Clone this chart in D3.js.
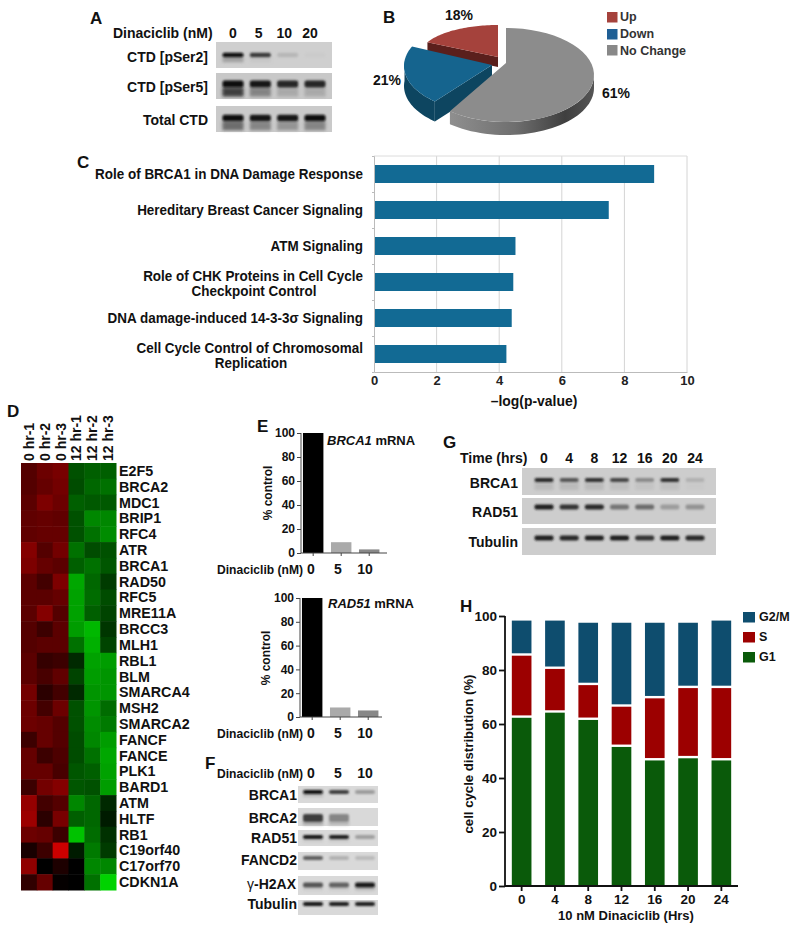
<!DOCTYPE html>
<html><head><meta charset="utf-8">
<script src="https://cdn.jsdelivr.net/npm/d3@7"></script>
<style>
html,body{margin:0;padding:0;background:#fff}
svg{display:block}
text{font-family:"Liberation Sans",Arial,sans-serif;font-weight:bold;fill:#111}
</style></head><body>
<svg id="fig" width="800" height="931"></svg>
<script>
// ---- Panel B
const pieLabels=["No Change","Down","Up"];
const pieValues=[61,21,18];
// ---- Panel C
const pathways=["Role of BRCA1 in DNA Damage Response","Hereditary Breast Cancer Signaling","ATM Signaling","Role of CHK Proteins in Cell Cycle|Checkpoint Control","DNA damage-induced 14-3-3σ Signaling","Cell Cycle Control of Chromosomal|Replication"];
const pathwayValues=[8.95,7.5,4.52,4.45,4.4,4.23];
// ---- Panel D
const heatGenes=["E2F5","BRCA2","MDC1","BRIP1","RFC4","ATR","BRCA1","RAD50","RFC5","MRE11A","BRCC3","MLH1","RBL1","BLM","SMARCA4","MSH2","SMARCA2","FANCF","FANCE","PLK1","BARD1","ATM","HLTF","RB1","C19orf40","C17orf70","CDKN1A"];
const heatSamples=["0 hr-1","0 hr-2","0 hr-3","12 hr-1","12 hr-2","12 hr-3"];
const heatValues=[
[.35,.45,.5,-.3,-.35,-.35],[.35,.42,.48,-.28,-.38,-.42],[.38,.52,.45,-.35,-.33,-.33],[.4,.42,.4,-.3,-.5,-.5],
[.4,.42,.42,-.3,-.42,-.52],[.55,.35,.48,-.42,-.28,-.3],[.52,.42,.38,-.35,-.42,-.32],[.38,.28,.52,-.62,-.38,-.22],
[.38,.38,.42,-.6,-.4,-.28],[.38,.55,.35,-.6,-.35,-.25],[.35,.25,.38,-.58,-.68,-.2],[.35,.38,.38,-.42,-.65,-.25],
[.38,.22,.25,-.15,-.6,-.58],[.38,.3,.4,-.25,-.58,-.55],[.48,.18,.28,-.15,-.55,-.55],[.45,.28,.45,-.3,-.55,-.4],
[.45,.42,.35,-.3,-.52,-.45],[.25,.42,.35,-.28,-.5,-.58],[.42,.25,.32,-.28,-.42,-.62],[.42,.42,.3,-.32,-.35,-.6],
[.25,.48,.55,-.32,-.3,-.58],[.62,.28,.35,-.5,-.38,-.15],[.65,.18,.5,-.35,-.38,-.1],[.45,.42,.25,-.72,-.4,-.18],
[.1,.25,.85,-.1,-.45,-.22],[.6,0,.12,0,-.5,-.5],[.2,.42,.02,0,-.42,-.78]];
// ---- Panel E
const doseE=["0","5","10"];
const brca1mRNA=[100,9,3];
const rad51mRNA=[100,8,5.5];
const doseBarColors=["#000","#aaa","#888"];
// ---- Panel H
const hrs=["0","4","8","12","16","20","24"];
const g1=[62.3,64.2,61.5,51.5,46.5,47.3,46.5];
const sPhase=[23,16.2,12.9,14.9,23,26,26.8];
const g2m=[13,17.9,23.1,31.1,28,24.2,25];
// ---- Western blots: band darkness per lane
const doseA=["0","5","10","20"];
const blotA=[
 {name:"CTD [pSer2]",bands:[1,.75,.12,.02],smear:[.3,.05,0,0]},
 {name:"CTD [pSer5]",bands:[1,.95,.85,.85],smear:[.9,.45,.2,.2]},
 {name:"Total CTD",bands:[1,.95,.95,1],smear:[.6,.45,.35,.45]}];
const blotF=[
 {name:"BRCA1",bands:[1,.75,.3],smear:[.2,0,0]},
 {name:"BRCA2",bands:[.75,.4,0],smear:[.35,.25,0]},
 {name:"RAD51",bands:[.95,.9,.28],smear:[.1,.1,0]},
 {name:"FANCD2",bands:[.6,.2,.15],smear:[0,0,0]},
 {name:"γ-H2AX",bands:[.65,.58,.95],smear:[.1,.1,.2]},
 {name:"Tubulin",bands:[.95,.9,.9],smear:[0,0,0]}];
const timeG=["0","4","8","12","16","20","24"];
const blotG=[
 {name:"BRCA1",bands:[.85,.62,.8,.7,.35,.8,.15],smear:[.12,.12,.12,.08,.06,.08,.02]},
 {name:"RAD51",bands:[.9,.8,.85,.45,.5,.25,.3],smear:[0,0,0,0,0,0,0]},
 {name:"Tubulin",bands:[.9,.85,.9,.9,.8,.9,.85],smear:[0,0,0,0,0,0,0]}];

const svg=d3.select("#fig");
const defs=svg.append("defs");
defs.append("filter").attr("id","blur").attr("x","-20%").attr("y","-100%").attr("width","140%").attr("height","300%")
  .append("feGaussianBlur").attr("stdDeviation","1.2 0.9");
defs.append("filter").attr("id","soft").attr("x","-20%").attr("y","-100%").attr("width","140%").attr("height","300%")
  .append("feGaussianBlur").attr("stdDeviation","1.5 1.6");

function txt(x,y,s,size,anchor,extra){
  const t=svg.append("text").attr("x",x).attr("y",y).attr("font-size",size).attr("text-anchor",anchor||"start").text(s);
  if(extra)extra(t);
  return t;
}
function letter(s,x,y){txt(x,y,s,17)}

// Blot drawing: a grey membrane with blurred bands
function blot(row,o){
  const g=svg.append("g");
  g.append("rect").attr("x",o.x).attr("y",o.y).attr("width",o.w).attr("height",o.h).attr("fill",o.bg||"#d6d6d6");
  const ink=d3.scaleLinear().domain([0,1]).range([o.bg||"#d6d6d6","#0a0a0a"]);
  const lane=d3.scalePoint().domain(d3.range(row.bands.length)).range(o.lanes);
  const bh=o.bh||5;
  row.smear.forEach((v,i)=>{ if(v<=0)return;
    g.append("rect").attr("x",lane(i)-o.bw/2).attr("y",o.by+bh/2).attr("width",o.bw).attr("height",o.sh||8)
     .attr("fill",ink(v)).attr("opacity",.8).attr("filter","url(#soft)");});
  row.bands.forEach((v,i)=>{ if(v<=0)return;
    g.append("rect").attr("x",lane(i)-o.bw/2).attr("y",o.by-bh/2).attr("width",o.bw).attr("height",bh).attr("rx",2)
     .attr("fill",ink(v)).attr("filter","url(#blur)");});
}

// ------- A
letter("A",90,24);
txt(113,38,"Dinaciclib (nM)",14);
const aLab=d3.scalePoint().domain(doseA).range([233,310]);
doseA.forEach(d=>txt(aLab(d),38,d,14,"middle"));
const aRows=[[42,26,55,62,"#cfcfcf"],[73,26,84,92,"#c8c8c8"],[106,26,118,125,"#cacaca"]];
blotA.forEach((r,i)=>{
  blot(r,{x:216,y:aRows[i][0],w:116,h:aRows[i][1],by:aRows[i][2],lanes:[233,315],bw:21,bh:i==0?4.5:i==1?7:6.5,sh:i==0?5:9,bg:aRows[i][4]});
  txt(208,aRows[i][3],r.name,14,"end");
});

// ------- B
letter("B",383,23);
const pie=d3.pie().value(d=>d).sort(null)(pieValues);
const sliceGeo=[
 {cx:506,cy:75,apx:506,apy:63,rx:88,ry:47,top:"#8c8c8c",depth:13},
 {cx:489,cy:66,apx:492,apy:65,rx:85,ry:46,top:"#15648e",side:"#0d4560",depth:20},
 {cx:498,cy:55,apx:498,apy:57,rx:78,ry:30,top:"#a5423c",side:"#5a1f1c",depth:10}];
function rimPt(a,g){return [g.cx+g.rx*Math.sin(a),g.cy-g.ry*Math.cos(a)]}
function rimPath(a0,a1,g,dy){
  return d3.range(0,41).map(i=>{const a=a0+(a1-a0)*i/40;const p=rimPt(a,g);return [p[0],p[1]+(dy||0)]});
}
const gB=svg.append("g");
const gr=defs.append("linearGradient").attr("id","greySide").attr("x1","0").attr("x2","1");
[[0,"#8f8f8f"],[.45,"#6f6f6f"],[.8,"#3f3f3f"],[1,"#555"]].forEach(s=>gr.append("stop").attr("offset",s[0]).attr("stop-color",s[1]));
const line=d3.line();
[2,1,0].forEach(i=>{
  const p=pie[i],g=sliceGeo[i];
  const rim=rimPath(p.startAngle,p.endAngle,g,0);
  const apex=[g.apx,g.apy];
  if(i===0){
    const a0=Math.PI/2,a1=p.endAngle;
    const up=rimPath(a0,a1,g,0),low=rimPath(a0,a1,g,g.depth).reverse();
    gB.append("path").attr("d",line(up.concat(low))+"Z").attr("fill","url(#greySide)");
  }else if(i===1){
    const a=rimPt(p.startAngle,g);
    gB.append("path").attr("d",line([apex,a,[a[0],a[1]+g.depth],[apex[0],apex[1]+g.depth]])+"Z").attr("fill",g.side);
    const up=rimPath(p.startAngle,p.endAngle,g,0).filter(q=>q[1]>g.cy-6),low=up.map(q=>[q[0],q[1]+g.depth]).reverse();
    gB.append("path").attr("d",line(up.concat(low))+"Z").attr("fill",g.side);
  }else{
    const b=rimPt(p.startAngle,g);
    gB.append("path").attr("d",line([apex,b,[b[0],b[1]+g.depth],[apex[0],apex[1]+g.depth]])+"Z").attr("fill",g.side);
  }
  gB.append("path").attr("d",line([apex].concat(rim))+"Z").attr("fill",g.top);
});
txt(445,20,"18%",14);
txt(373,85,"21%",14);
txt(602,98,"61%",14);
const bLegend=[["Up","#a5423c",12,21],["Down","#1f5f95",29,38],["No Change","#888",45,55]];
bLegend.forEach(l=>{
  svg.append("rect").attr("x",607).attr("y",l[2]).attr("width",10.5).attr("height",10.5).attr("fill",l[1]);
  txt(620,l[3],l[0],12.5,"start",t=>t.style("fill","#333"));
});

// ------- C
letter("C",77,168);
const cx=d3.scaleLinear().domain([0,10]).range([374,687]);
const cy=d3.scaleBand().domain(pathways).range([156,372]).paddingInner(.5).paddingOuter(.25);
const gC=svg.append("g");
gC.append("g").selectAll("line").data(d3.range(2,11,2)).join("line")
 .attr("x1",d=>cx(d)).attr("x2",d=>cx(d)).attr("y1",156).attr("y2",372).attr("stroke","#d4d4d4").attr("stroke-width",1);
gC.append("line").attr("x1",374).attr("x2",687).attr("y1",156).attr("y2",156).attr("stroke","#dcdcdc");
gC.append("g").selectAll("rect").data(pathways).join("rect")
 .attr("x",cx(0)).attr("y",d=>cy(d)).attr("width",(d,i)=>cx(pathwayValues[i])-cx(0)).attr("height",cy.bandwidth())
 .attr("fill","#126a94");
const caxis=gC.append("g").attr("transform","translate(0,372)").call(d3.axisBottom(cx).tickValues(d3.range(0,11,2)).tickSize(0).tickPadding(4));
caxis.select(".domain").attr("stroke","#bbb");
caxis.selectAll("text").attr("font-size",13).attr("font-family","Liberation Sans").attr("font-weight","bold").style("fill","#222");
const cyAxisLine=gC.append("g").attr("transform","translate(374,0)").call(d3.axisLeft(d3.scaleLinear().domain([0,6]).range([156,372])).ticks(6).tickSize(2).tickFormat(""));
cyAxisLine.selectAll("line,path").attr("stroke","#bbb");
function squash(t){const n=t.node();t.attr("textLength",n.getComputedTextLength()*.928).attr("lengthAdjust","spacingAndGlyphs");return t}
pathways.forEach(p=>{
  const parts=p.split("|"),c=cy(p)+cy.bandwidth()/2;
  if(parts.length==1) squash(txt(363,c+5,parts[0],14.5,"end"));
  else{
    squash(txt(363,c-1.5,parts[0],14.5,"end"));
    squash(txt(p.startsWith("Cell")?251:254,c+14,parts[1],14.5,"middle"));
  }
});
squash(txt(534,406,"–log(p-value)",15,"middle"));

// ------- D
letter("D",7,417);
const hx=d3.scaleBand().domain(heatSamples).range([21,116]);
const hy=d3.scaleBand().domain(heatGenes).range([463,890]);
const heatColor=v=>v>=0?d3.rgb(Math.min(255,v*240),0,0):d3.rgb(0,Math.min(255,-v*270),0);
const gH=svg.append("g");
heatValues.forEach((row,r)=>row.forEach((v,c)=>{
  gH.append("rect").attr("x",hx(heatSamples[c])).attr("y",hy(heatGenes[r])).attr("width",hx.bandwidth()+.5).attr("height",hy.bandwidth()+.5).attr("fill",heatColor(v));
}));
heatSamples.forEach(s=>{
  const x=hx(s)+hx.bandwidth()/2+5;
  svg.append("text").attr("transform",`translate(${x},461) rotate(-90)`).attr("font-size",14).text(s);
});
heatGenes.forEach(g=>txt(119,hy(g)+hy.bandwidth()/2+5,g,14.3));

// ------- E
letter("E",257,432);
function barChart(vals,top,bot,axisX,xEnd,titleIt,titleRest,titleX,titleY,ctlX,ctlY,doseY){
  const y=d3.scaleLinear().domain([0,100]).range([bot,top]);
  const x=d3.scaleBand().domain(doseE).range([axisX,axisX+80.4]).paddingInner(.27).paddingOuter(.07);
  const g=svg.append("g");
  g.selectAll("rect").data(vals).join("rect")
   .attr("x",(d,i)=>x(doseE[i])).attr("y",d=>y(d)).attr("width",x.bandwidth()).attr("height",d=>y(0)-y(d))
   .attr("fill",(d,i)=>doseBarColors[i]);
  const ya=g.append("g").attr("transform",`translate(${axisX},0)`).call(d3.axisLeft(y).ticks(5).tickSize(4).tickPadding(2));
  const xa=g.append("g").attr("transform",`translate(0,${bot})`).call(d3.axisBottom(x).tickSize(3).tickFormat(""));
  [ya,xa].forEach(a=>{a.selectAll("path,line").attr("stroke","#444").attr("stroke-width",1);
    a.selectAll("text").attr("font-size",12).attr("font-family","Liberation Sans").attr("font-weight","bold").style("fill","#111")});
  xa.select(".domain").attr("d",`M${axisX},0H${xEnd}`);
  ya.select(".domain").attr("d",`M0,${bot}V${top}`);
  const t=txt(titleX,titleY,"",13);
  t.append("tspan").attr("font-style","italic").text(titleIt);
  t.append("tspan").text(" "+titleRest);
  svg.append("text").attr("transform",`translate(${ctlX},${ctlY}) rotate(-90)`).attr("text-anchor","middle").attr("font-size",12).text("% control");
  txt(217,doseY,"Dinaciclib (nM)",12.1);
  const dl=d3.scalePoint().domain(doseE).range([311,365]);
  doseE.forEach(d=>txt(dl(d),doseY,d,14,"middle"));
}
barChart(brca1mRNA,433,553,301,387,"BRCA1","mRNA",327,445,272,493,574);
barChart(rad51mRNA,598,717,300,382,"RAD51","mRNA",328,608,270,658,738);

// ------- F
letter("F",205,769);
txt(217,778,"Dinaciclib (nM)",12.1);
const fl=d3.scalePoint().domain(doseE).range([311,365]);
doseE.forEach(d=>txt(fl(d),778,d,14,"middle"));
const fRows=[[786,17,792,800],[808,18,818,823],[830,16,837,843],[852,18,858,865],[876,19,885,889],[900,15,904,909]];
blotF.forEach((r,i)=>{
  blot(r,{x:298,y:fRows[i][0],w:80,h:fRows[i][1],by:fRows[i][2],lanes:[313,365],bw:20,bh:i==1?8:i==4?5:4,sh:i==1?3:3,bg:"#d9d9d9"});
  const t=txt(i==4?296:297,fRows[i][3],"",14,"end");
  if(r.name.startsWith("γ")){t.append("tspan").style("font-weight","normal").text("γ");t.append("tspan").text("-H2AX");}
  else t.text(r.name);
});

// ------- G
letter("G",443,448);
txt(460,463,"Time (hrs)",14);
const gl=d3.scalePoint().domain(timeG).range([544,695]);
timeG.forEach(d=>txt(gl(d),463,d,14,"middle"));
const gRows=[[468,27,480,488],[498,26,507,517],[528,27,538,547]];
blotG.forEach((r,i)=>{
  blot(r,{x:522,y:gRows[i][0],w:194,h:gRows[i][1],by:gRows[i][2],lanes:[544,695],bw:19,bh:i==0?4:5,sh:i==0?8:3,bg:"#cdcdcd"});
  txt(518,gRows[i][3],r.name,14,"end");
});

// ------- H
letter("H",460,612);
const hxs=d3.scaleBand().domain(hrs).range([505,738]).paddingInner(.41).paddingOuter(.205);
const hys=d3.scaleLinear().domain([0,100]).range([886,616]);
const stackData=hrs.map((h,i)=>({h,G1:g1[i],S:sPhase[i],G2M:g2m[i]}));
const stack=d3.stack().keys(["G1","S","G2M"])(stackData);
const stackColors={G1:"#0a5a0a",S:"#9c0000",G2M:"#0e4d6e"};
const gS=svg.append("g");
stack.forEach((s,k)=>{
  gS.append("g").attr("fill",stackColors[s.key]).selectAll("rect").data(s).join("rect")
   .attr("x",d=>hxs(d.data.h)).attr("y",d=>hys(d[1])).attr("width",hxs.bandwidth())
   .attr("height",d=>hys(d[0])-hys(d[1])-(k>0?2.4:0));
});
const hya=gS.append("g").attr("transform","translate(505,0)").call(d3.axisLeft(hys).ticks(5).tickSize(6).tickPadding(2));
const hxa=gS.append("g").attr("transform","translate(0,886)").call(d3.axisBottom(hxs).tickSize(5).tickPadding(3));
[hya,hxa].forEach(a=>{a.selectAll("path,line").attr("stroke","#111").attr("stroke-width",1.8);
  a.selectAll("text").attr("font-size",13.5).attr("font-family","Liberation Sans").attr("font-weight","bold").style("fill","#111")});
hxa.select(".domain").attr("d","M505,0H738");
hya.select(".domain").attr("d","M0,886V616");
svg.append("text").attr("transform","translate(473,754) rotate(-90)").attr("text-anchor","middle").attr("font-size",13.2).text("cell cycle distribution (%)");
txt(626,920,"10 nM Dinaciclib (Hrs)",13,"middle");
const hLegend=[["G2/M","#0e4d6e",612,621],["S","#9c0000",632,641],["G1","#0a5a0a",652,661]];
hLegend.forEach(l=>{
  svg.append("rect").attr("x",743).attr("y",l[2]).attr("width",12).attr("height",10.5).attr("fill",l[1]);
  txt(759,l[3],l[0],12.5);
});
</script>
</body></html>
